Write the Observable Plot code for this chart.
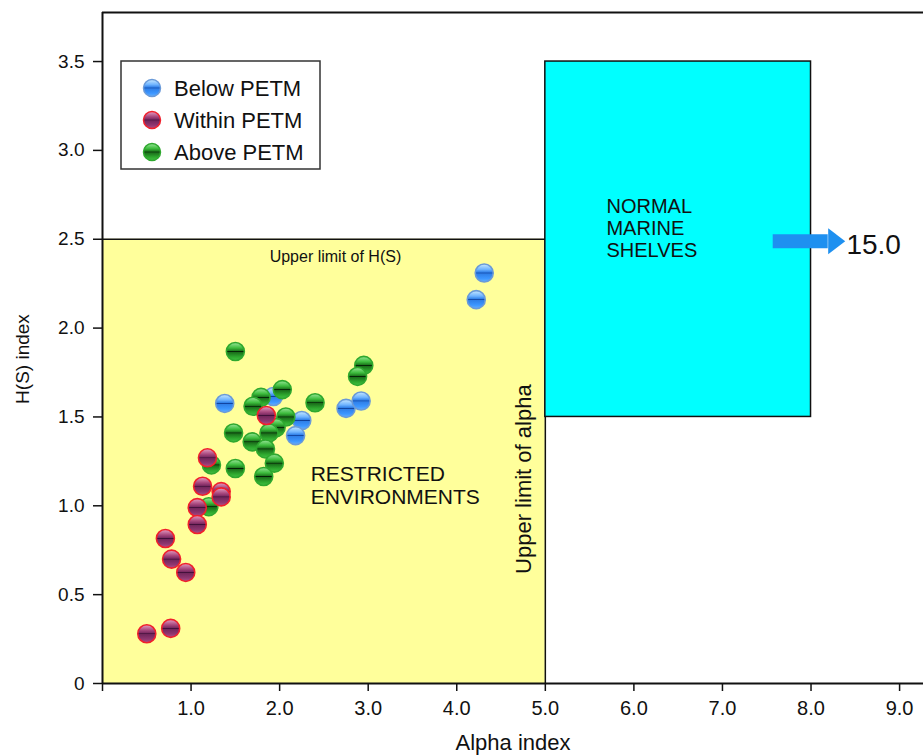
<!DOCTYPE html>
<html>
<head>
<meta charset="utf-8">
<script src="https://cdn.jsdelivr.net/npm/d3@7"></script>
<script src="https://cdn.jsdelivr.net/npm/@observablehq/plot@0.6"></script>
<style>
  html, body { margin: 0; padding: 0; background: #fff; overflow: hidden; }
  #wrap { position: relative; width: 923px; height: 755px; }
  #legend { position: absolute; left: 120px; top: 60px; }
  #wrap g[aria-label="x-axis tick label"], #wrap g[aria-label="x-axis tick label"] text { font-size: 20px !important; }
  #wrap g[aria-label="y-axis tick label"], #wrap g[aria-label="y-axis tick label"] text { font-size: 19px !important; }
</style>
</head>
<body>
<div id="wrap"></div>
<script>
// ---- data ----
const belowX = [1.38, 1.93, 2.25, 2.18, 2.75, 2.92, 4.22, 4.31];
const belowY = [1.576, 1.615, 1.48, 1.395, 1.548, 1.59, 2.16, 2.31];
const withinX = [1.185, 1.13, 1.34, 1.34, 1.07, 1.07, 0.71, 0.78, 0.94, 0.50, 0.77, 1.85];
const withinY = [1.27, 1.11, 1.08, 1.05, 0.99, 0.895, 0.816, 0.70, 0.625, 0.28, 0.31, 1.508];
const aboveX = [1.50, 2.95, 2.88, 2.03, 1.79, 1.70, 2.40, 2.07, 1.96, 1.88, 1.48, 1.69, 1.84, 1.94, 1.82, 1.50, 1.23, 1.20];
const aboveY = [1.868, 1.79, 1.728, 1.654, 1.61, 1.56, 1.58, 1.50, 1.44, 1.41, 1.41, 1.36, 1.32, 1.24, 1.165, 1.21, 1.23, 0.995];
const groups = ["Below PETM", "Within PETM", "Above PETM"];
const xTicks = [0, 1, 2, 3, 4, 5, 6, 7, 8, 9];
const yTicks = [0, 0.5, 1, 1.5, 2, 2.5, 3, 3.5];
const alphaLimit = 5.0, hsLimit = 2.5;
const shelfX = [5.0, 8.0], shelfY = [1.5, 3.5];
const xMax = 9.27, yMax = 3.776;
const arrowFrom = 7.573, arrowHeadAt = 8.194, arrowLabel = "15.0";

const rows = [
  ...belowX.map((x, i) => ({x, y: belowY[i], g: groups[0]})),
  ...aboveX.map((x, i) => ({x, y: aboveY[i], g: groups[2]})),
  ...withinX.map((x, i) => ({x, y: withinY[i], g: groups[1]}))
];
const fillOf = {"Below PETM": "url(#gBlue)", "Within PETM": "url(#gRed)", "Above PETM": "url(#gGreen)"};
const strokeOf = {"Below PETM": "#6a9ad8", "Within PETM": "#f0202c", "Above PETM": "#2fa82f"};

const font = "'Liberation Sans', Arial, sans-serif";
const arrowHead = {draw(ctx) { ctx.moveTo(0, -13); ctx.lineTo(17, 0); ctx.lineTo(0, 13); ctx.closePath(); }};

const chart = Plot.plot({
  width: 923,
  height: 755,
  marginLeft: 102,
  marginRight: 0,
  marginTop: 12,
  marginBottom: 72,
  style: {fontFamily: font, color: "#111", background: "transparent"},
  x: {domain: [0, xMax]},
  y: {domain: [0, yMax]},
  marks: [
    // restricted environments region
    Plot.rect([{x1: 0, x2: alphaLimit, y1: 0, y2: hsLimit}], {x1: "x1", x2: "x2", y1: "y1", y2: "y2", fill: "#ffff9b"}),
    Plot.ruleY([hsLimit], {x1: 0, x2: alphaLimit, stroke: "#111", strokeWidth: 1.5}),
    Plot.ruleX([alphaLimit], {y1: 0, y2: hsLimit, stroke: "#111", strokeWidth: 1.5}),
    // normal marine shelves region
    Plot.rect([{x1: shelfX[0], x2: shelfX[1], y1: shelfY[0], y2: shelfY[1]}], {x1: "x1", x2: "x2", y1: "y1", y2: "y2", fill: "#00ffff", stroke: "#111", strokeWidth: 1.5}),
    // frame lines
    Plot.ruleY([yMax], {stroke: "#111", strokeWidth: 2}),
    Plot.ruleX([0], {y1: 0, y2: yMax, stroke: "#111", strokeWidth: 2}),
    Plot.ruleY([0], {stroke: "#111", strokeWidth: 2}),
    // axes
    Plot.axisX({ticks: xTicks, tickSize: 8, tickPadding: 9, tickFormat: d => d === 0 ? "" : d.toFixed(1), label: null, stroke: "#111", strokeWidth: 1.5, fontSize: 20}),
    Plot.axisY({ticks: yTicks, tickSize: 9, tickPadding: 9, tickFormat: d => d === 0 ? "0" : d.toFixed(1), label: null, stroke: "#111", strokeWidth: 1.5, fontSize: 19}),
    Plot.text(["Alpha index"], {frameAnchor: "bottom", dy: 59, lineAnchor: "middle", textAnchor: "middle", fontSize: 22, fill: "#111"}),
    Plot.text(["H(S) index"], {frameAnchor: "left", dx: -80, dy: 11, textAnchor: "middle", lineAnchor: "middle", rotate: -90, fontSize: 19, fill: "#111"}),
    // annotations
    Plot.text(["Upper limit of H(S)"], {x: 2.63, y: 2.40, fontSize: 16, fill: "#111"}),
    Plot.text(["RESTRICTED\nENVIRONMENTS"], {x: 2.35, y: 1.115, textAnchor: "start", lineHeight: 1.06, fontSize: 21, fill: "#111"}),
    Plot.text(["Upper limit of alpha"], {x: 4.76, y: 1.15, rotate: -90, fontSize: 22, fill: "#111"}),
    Plot.text(["NORMAL\nMARINE\nSHELVES"], {x: 5.69, y: 2.563, textAnchor: "start", lineHeight: 1.115, fontSize: 20, fill: "#111"}),
    // arrow to 15.0
    Plot.ruleY([hsLimit], {x1: arrowFrom, x2: arrowHeadAt, dy: 2, stroke: "#1e90f0", strokeWidth: 14}),
    Plot.dot([{x: arrowHeadAt, y: hsLimit}], {x: "x", y: "y", dy: 2, symbol: arrowHead, r: 10, fill: "#1e90f0"}),
    Plot.text([arrowLabel], {x: 8.40, y: 2.47, textAnchor: "start", fontSize: 28, fill: "#111"}),
    // points
    Plot.dot(rows, {x: "x", y: "y", r: 9, fill: d => fillOf[d.g], stroke: d => strokeOf[d.g], strokeWidth: 1.6})
  ]
});

function addDefs(svg) {
  const defs = d3.select(svg).insert("defs", ":first-child");
  const grads = {
    gBlue: [["0%", "#c8e8ff"], ["30%", "#6fb4ff"], ["46%", "#2f7fe8"], ["50%", "#0e3f9a"], ["54%", "#2f7fe8"], ["80%", "#3c96ff"], ["100%", "#64b0ff"]],
    gRed: [["0%", "#e6a0c4"], ["30%", "#a8487e"], ["46%", "#7a2a62"], ["50%", "#3e0f38"], ["54%", "#72275c"], ["80%", "#8f3670"], ["100%", "#b0508a"]],
    gGreen: [["0%", "#9ae69a"], ["30%", "#3cbc3c"], ["46%", "#1e7a1e"], ["50%", "#041e04"], ["54%", "#1a6e1a"], ["80%", "#2ea82e"], ["100%", "#44c044"]]
  };
  for (const [id, stops] of Object.entries(grads)) {
    const g = defs.append("linearGradient").attr("id", id).attr("x1", 0).attr("y1", 0).attr("x2", 0).attr("y2", 1);
    for (const [o, c] of stops) g.append("stop").attr("offset", o).attr("stop-color", c);
  }
}
addDefs(chart);
document.getElementById("wrap").appendChild(chart);

// legend (overlay SVG)
const lg = d3.select("#wrap").append("svg").attr("id", "legend").attr("width", 202).attr("height", 111)
  .style("font-family", font);
lg.append("rect").attr("x", 1).attr("y", 1).attr("width", 199).attr("height", 108)
  .attr("fill", "#fff").attr("stroke", "#333").attr("stroke-width", 1.5);
groups.forEach((g, i) => {
  const cy = 28 + i * 32;
  lg.append("circle").attr("cx", 32).attr("cy", cy).attr("r", 8.5).attr("fill", fillOf[g]).attr("stroke", strokeOf[g]).attr("stroke-width", 1.5);
  lg.append("text").attr("x", 54).attr("y", cy).attr("dy", "0.35em").attr("font-size", 22).attr("fill", "#111").text(g);
});
</script>
</body>
</html>
